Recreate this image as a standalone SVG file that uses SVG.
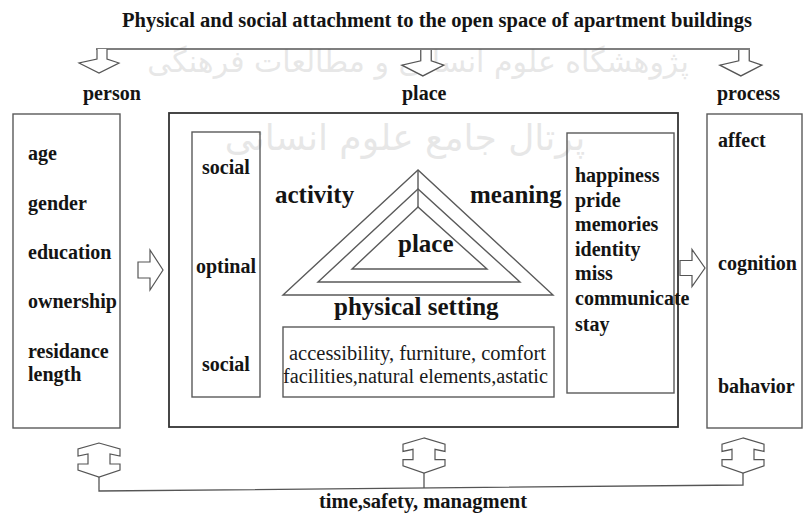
<svg xmlns="http://www.w3.org/2000/svg" width="803" height="515" viewBox="0 0 803 515">
  <style>
    .t { font-family: "Liberation Serif", "Times New Roman", serif; font-weight: bold; font-size: 20px; fill: #141414; }
    .big { font-size: 25px; }
    .reg { font-family: "Liberation Serif", "Times New Roman", serif; font-weight: normal; font-size: 20px; fill: #1a1a1a; }
    .box { fill: none; stroke: #5a5a5a; stroke-width: 1.4; }
    .outer { fill: none; stroke: #333; stroke-width: 1.8; }
    .ln { fill: none; stroke: #555; stroke-width: 1.3; }
    .arw { fill: #fff; stroke: #555; stroke-width: 1.2; stroke-linejoin: miter; }
    .wm { font-family: "DejaVu Sans", sans-serif; fill: #8a8a8a; opacity: 0.2; }
  </style>
  <defs>
    <path id="down" d="M-5,0 L-5,10 L-23,14 L-3,24 L17,14 L5,10 L5,0"/>
    <path id="right" d="M0,-8 L12,-8 L12,-20 L25,0 L12,20 L12,8 L0,8 Z"/>
    <path id="dbl" d="M0,0 L-21,6 L-21,13 L-11,11 L-11,21 L-21,21 L-21,27 L0,34 L21,27 L21,21 L11,21 L11,11 L21,13 L21,6 Z"/>
  </defs>

  <!-- watermark -->
  <g id="watermark">
    <text class="wm" x="418" y="72" font-size="30" text-anchor="middle">پژوهشگاه علوم انسانی و مطالعات فرهنگی</text>
    <text class="wm" x="405" y="150" font-size="36" text-anchor="middle">پرتال جامع علوم انسانی</text>
  </g>

  <g id="title">
    <text class="t" x="122" y="27" textLength="630" lengthAdjust="spacingAndGlyphs">Physical and social attachment to the open space of apartment buildings</text>
  </g>

  <g id="connectors">
    <line class="ln" x1="96" y1="49" x2="750" y2="49"/>
    <use href="#down" class="arw" x="102" y="49"/>
    <use href="#down" class="arw" x="426" y="50" transform="translate(426,50) scale(1.05,1.08) translate(-426,-50)"/>
    <use href="#down" class="arw" x="744" y="50" transform="translate(744,50) scale(1.05,1.08) translate(-744,-50)"/>
    <use href="#right" class="arw" x="138" y="270"/>
    <use href="#right" class="arw" x="680" y="268" transform="translate(680,268) scale(1,0.93) translate(-680,-268)"/>
    <use href="#dbl" class="arw" x="99" y="443"/>
    <use href="#dbl" class="arw" x="424" y="438" transform="translate(424,438) scale(1,1.03) translate(-424,-438)"/>
    <use href="#dbl" class="arw" x="743" y="438" transform="translate(743,438) scale(1,1.03) translate(-743,-438)"/>
    <polyline class="ln" points="99,477 99,491 743,485 743,473"/>
    <line class="ln" x1="424" y1="473" x2="424" y2="488"/>
  </g>

  <g id="person">
    <text class="t" x="83" y="100">person</text>
    <rect class="box" x="13" y="114" width="107" height="314"/>
    <text class="t" x="28" y="160">age</text>
    <text class="t" x="28" y="210">gender</text>
    <text class="t" x="28" y="259">education</text>
    <text class="t" x="28" y="308">ownership</text>
    <text class="t" x="28" y="358">residance</text>
    <text class="t" x="28" y="381">length</text>
  </g>

  <g id="place">
    <text class="t" x="402" y="100">place</text>
    <rect class="outer" x="169" y="113" width="509" height="314"/>
  </g>

  <g id="social-box">
    <rect class="box" x="192" y="132" width="68" height="265"/>
    <text class="t" x="202" y="174">social</text>
    <text class="t" x="196" y="273">optinal</text>
    <text class="t" x="202" y="371">social</text>
  </g>

  <g id="triangle">
    <polygon class="box" points="418,170 283,295 553,295"/>
    <polygon class="box" points="418,189 318,282 520,282"/>
    <polygon class="box" points="418,207 352,269 487,269"/>
    <line class="box" x1="418" y1="170" x2="418" y2="207"/>
    <text class="t big" x="275" y="203">activity</text>
    <text class="t big" x="470" y="203">meaning</text>
    <text class="t big" x="398" y="252">place</text>
    <text class="t big" x="334" y="315">physical setting</text>
  </g>

  <g id="physical-setting">
    <rect class="box" x="283" y="327" width="271" height="70"/>
    <text class="reg" x="289" y="360" textLength="257" lengthAdjust="spacingAndGlyphs">accessibility, furniture, comfort</text>
    <text class="reg" x="283" y="383" textLength="265" lengthAdjust="spacingAndGlyphs">facilities,natural elements,astatic</text>
  </g>

  <g id="meaning-box">
    <rect class="box" x="567" y="133" width="107" height="260"/>
    <text class="t" x="575" y="182">happiness</text>
    <text class="t" x="575" y="207">pride</text>
    <text class="t" x="575" y="231">memories</text>
    <text class="t" x="575" y="256">identity</text>
    <text class="t" x="575" y="280">miss</text>
    <text class="t" x="575" y="305">communicate</text>
    <text class="t" x="575" y="331">stay</text>
  </g>

  <g id="process">
    <text class="t" x="717" y="100">process</text>
    <rect class="box" x="707" y="114" width="95" height="314"/>
    <text class="t" x="718" y="147">affect</text>
    <text class="t" x="718" y="270">cognition</text>
    <text class="t" x="718" y="393">bahavior</text>
  </g>

  <g id="footer">
    <text class="t" x="319" y="508" textLength="208" lengthAdjust="spacingAndGlyphs">time,safety, managment</text>
  </g>
</svg>
